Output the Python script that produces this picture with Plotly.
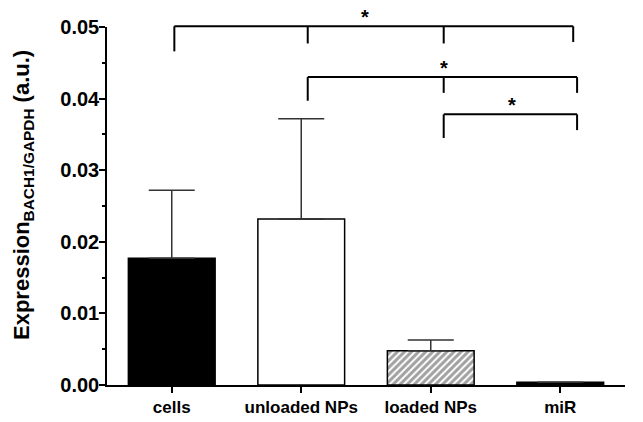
import plotly.graph_objects as go

categories = ["cells", "unloaded NPs", "loaded NPs", "miR"]
means = [0.0177, 0.0232, 0.0048, 0.0004]
errors = [0.0095, 0.0140, 0.0015, 0.0]
y_ticks = [0.00, 0.01, 0.02, 0.03, 0.04, 0.05]
y_tick_labels = ["0.00", "0.01", "0.02", "0.03", "0.04", "0.05"]

# significance brackets: (x positions of legs, bar height, leg bottoms, star x)
brackets = [
    ([0.02, 1.05, 2.1, 3.1], 0.0501, [0.0466, 0.0477, 0.0477, 0.0479], 1.49),
    ([1.05, 2.1, 3.13], 0.0430, [0.0397, 0.0408, 0.0408], 2.1),
    ([2.1, 3.13], 0.0378, [0.0345, 0.0356], 2.67),
]

fills = ["black", "white", "white", "black"]
patterns = ["", "", "/", ""]

YMAX = 0.05
XMIN, XMAX = -0.5, 3.5

fig = go.Figure()
fig.add_trace(go.Bar(
    x=list(range(len(categories))),
    y=means,
    width=0.67,
    marker=dict(
        color=fills,
        line=dict(color="black", width=1.5),
        pattern=dict(shape=patterns, fgcolor="black", bgcolor="white", size=5, solidity=0.6),
    ),
    error_y=dict(type="data", array=errors, arrayminus=[0] * 4, symmetric=False,
                 color="#333333", thickness=1.5, width=23),
    showlegend=False,
))

def px_x(v):
    return (v - XMIN) / (XMAX - XMIN)

def px_y(v):
    return v / YMAX

shapes = []
annotations = []
for xs, h, bottoms, sx in brackets:
    shapes.append(dict(type="line", xref="paper", yref="paper",
                       x0=px_x(xs[0]), x1=px_x(xs[-1]), y0=px_y(h), y1=px_y(h),
                       line=dict(color="black", width=2)))
    for xv, b in zip(xs, bottoms):
        shapes.append(dict(type="line", xref="paper", yref="paper",
                           x0=px_x(xv), x1=px_x(xv), y0=px_y(h), y1=px_y(b),
                           line=dict(color="black", width=2)))
    annotations.append(dict(x=px_x(sx), y=px_y(h), xref="paper", yref="paper",
                            text="<b>*</b>", showarrow=False, yanchor="bottom",
                            yshift=-4, font=dict(size=20, color="black")))

# y-axis title as a rotated annotation
annotations.append(dict(x=-0.162, y=0.531, xref="paper", yref="paper",
                        text="<b>Expression<sub>BACH1/GAPDH</sub> (a.u.)</b>",
                        textangle=-90, showarrow=False, xanchor="center", yanchor="middle",
                        font=dict(size=22, color="black")))

# page body has an 8px margin; the figure is sized so it still ends at 643x422
fig.update_layout(
    width=635, height=414,
    margin=dict(l=99, r=18, t=19, b=37),
    paper_bgcolor="white", plot_bgcolor="white",
    font=dict(family="Liberation Sans, Arial", color="black"),
    shapes=shapes,
    annotations=annotations,
    xaxis=dict(
        range=[XMIN, XMAX],
        tickvals=list(range(len(categories))),
        ticktext=["<b>%s</b>" % c for c in categories],
        tickfont=dict(size=17, color="black"),
        showline=True, linecolor="black", linewidth=1.5,
        ticks="outside", ticklen=6, tickwidth=1.5, tickcolor="black",
        showgrid=False, zeroline=False, automargin=False,
    ),
    yaxis=dict(
        range=[0, YMAX],
        tickvals=y_ticks,
        ticktext=["<b>%s</b>" % t for t in y_tick_labels],
        tickfont=dict(size=20, color="black"),
        showline=True, linecolor="black", linewidth=1.5,
        ticks="outside", ticklen=6, tickwidth=1.5, tickcolor="black",
        minor=dict(dtick=0.005, ticks="outside", ticklen=3, tickwidth=1.5, tickcolor="black", showgrid=False),
        showgrid=False, zeroline=False, automargin=False,
    ),
)

try:
    fig.update_yaxes(ticklabelstandoff=-4)
except Exception:
    pass

fig.write_html("out.html")
